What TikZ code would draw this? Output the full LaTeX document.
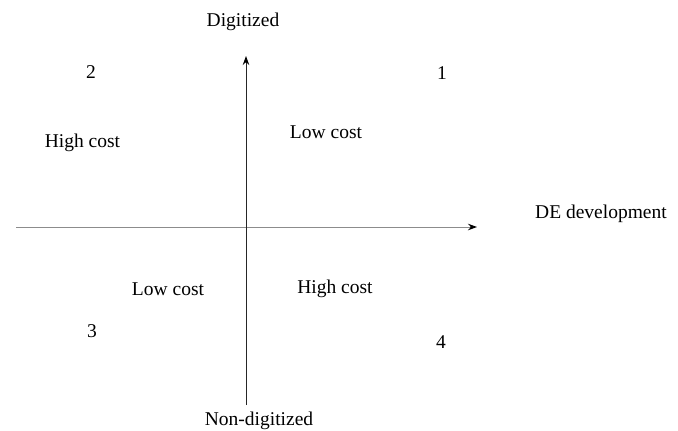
\documentclass[tikz,border=0pt]{standalone}
\usepackage{fontspec}
\setmainfont{Liberation Serif}
\usetikzlibrary{arrows.meta}
\begin{document}
\begin{tikzpicture}[x=1pt,y=-1pt,
  lbl/.style={anchor=base,inner sep=0pt,font=\fontsize{19.5}{22}\selectfont},
  axis/.style={line width=1pt},
  tip/.style={-{Stealth[length=9pt,width=6.5pt,color=black]}}]
\useasboundingbox (0,0) rectangle (678,431);
% texts
\node[lbl] (dig) at (243,26) {Digitized};
\node[lbl] (nondig) at (259,425.5) {Non-digitized};
\node[lbl] (de) at (601,218) {DE development};
\node[lbl] (n2) at (91,78.5) {2};
\node[lbl] (n1) at (442,79.5) {1};
\node[lbl] (n3) at (92,337.5) {3};
\node[lbl] (n4) at (441,348.5) {4};
\node[lbl] (hcul) at (82.5,147) {High cost};
\node[lbl] (lcur) at (326,138.5) {Low cost};
\node[lbl] (lcll) at (168,295.5) {Low cost};
\node[lbl] (hclr) at (335,293.5) {High cost};
% axes
\coordinate (hl) at (16,227);
\coordinate (hr) at (477,227);
\coordinate (vb) at (246,405);
\coordinate (vt) at (246,56);
\draw[axis,tip,draw=black!45] (hl) -- (hr);
\draw[axis,tip,draw=black!85] (vb) -- (vt);
\end{tikzpicture}
\end{document}
